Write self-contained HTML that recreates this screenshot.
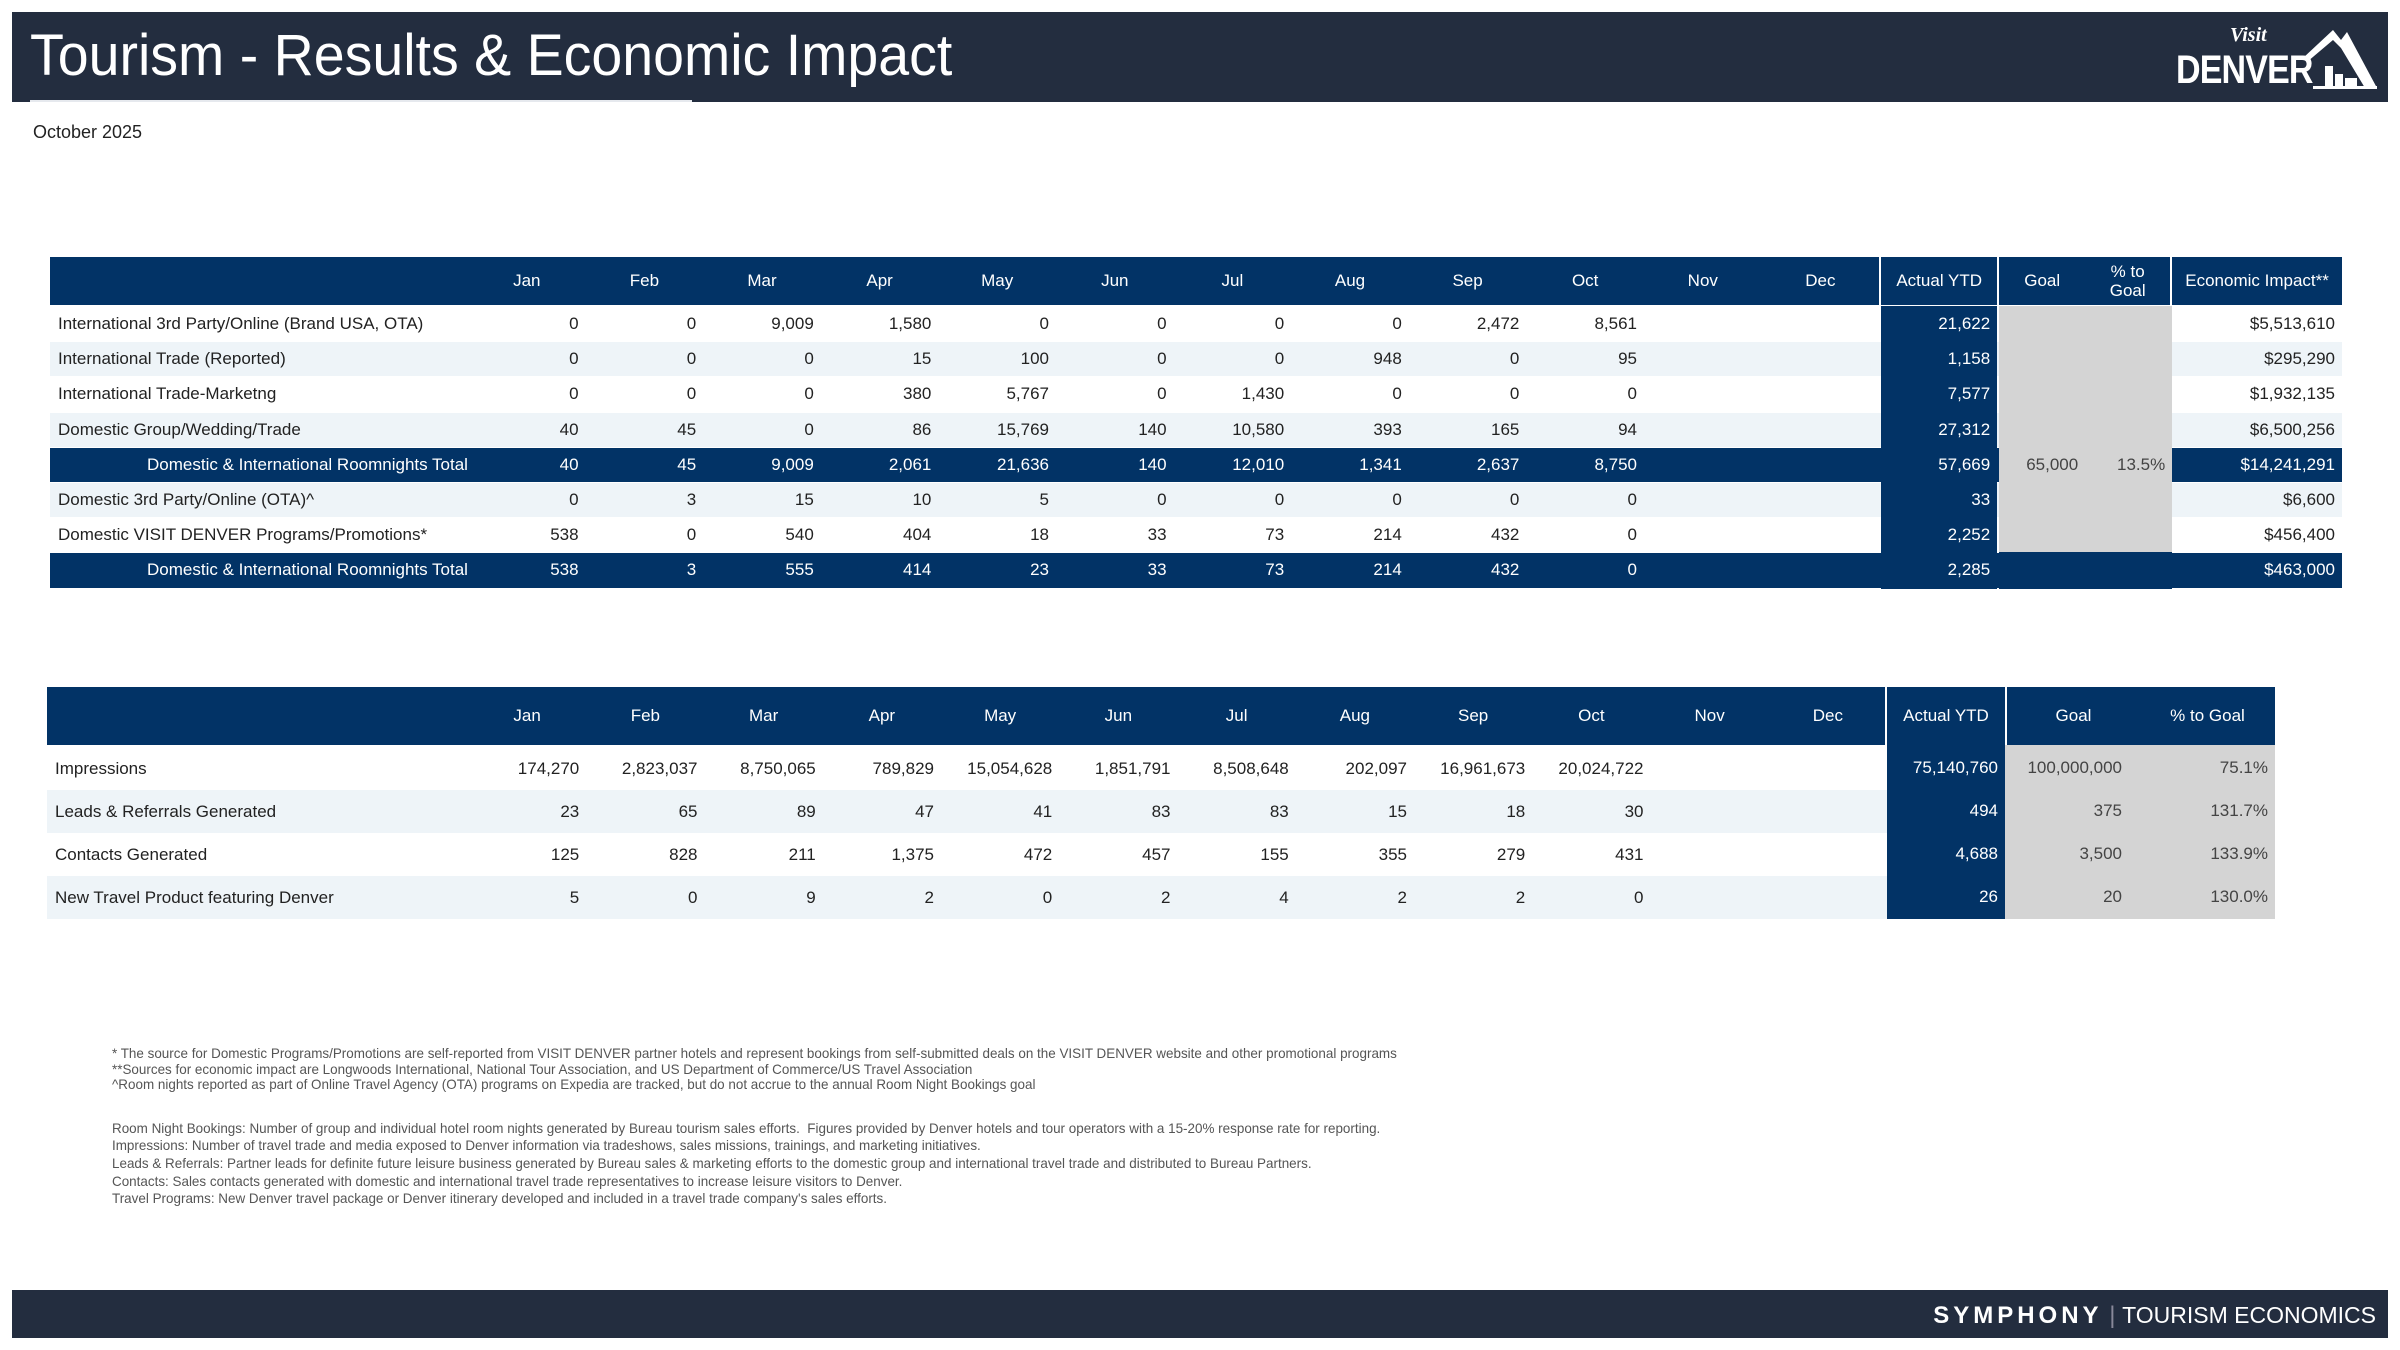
<!DOCTYPE html>
<html><head><meta charset="utf-8">
<style>
*{margin:0;padding:0;box-sizing:border-box}
body{width:2400px;height:1350px;background:#fff;position:relative;overflow:hidden;font-family:"Liberation Sans",sans-serif;color:#222}
.abs{position:absolute}
.cell{position:absolute;display:flex;align-items:center;font-size:17px;white-space:nowrap}
.r{justify-content:flex-end;padding-right:7px}
.c{justify-content:center}
.l{padding-left:8px}
.navy{background:#023366;color:#fff}
.fn{position:absolute;left:112px;font-size:14px;color:#555;white-space:nowrap;transform-origin:left center;transform:scaleX(0.96)}
</style></head><body>
<div class="abs" style="left:12px;top:12px;width:2376px;height:90px;background:#232d3f"></div>
<div class="abs" style="left:30px;top:22px;font-size:58px;color:#fff;white-space:nowrap;transform-origin:left top;transform:scaleX(0.957)">Tourism - Results &amp; Economic Impact</div>
<div class="abs" style="left:30px;top:100px;width:662px;height:2px;background:#e6e9ee"></div>
<div class="abs" style="left:2170px;top:22px;width:210px;height:72px">
  <div class="abs" style="left:60px;top:2px;font:italic bold 20px 'Liberation Serif',serif;color:#fff">Visit</div>
  <div class="abs" style="left:6px;top:26px;font:bold 40px 'Liberation Sans',sans-serif;color:#fff;letter-spacing:-1px;transform-origin:left top;transform:scaleX(0.85)">DENVER</div>
  <svg class="abs" style="left:125px;top:0" width="85" height="72"><path d="M8 36 L38 8 L46 18 L52 10 L82 66 L70 66 L46 26 L38 18 L12 40Z" fill="#fff"/><rect x="30" y="44" width="8" height="22" fill="#fff"/><rect x="40" y="52" width="8" height="14" fill="#fff"/><rect x="50" y="56" width="12" height="10" fill="#fff"/><rect x="18" y="64" width="64" height="3" fill="#fff"/></svg>
</div>
<div class="abs" style="left:33px;top:122px;font-size:18px;color:#222">October 2025</div>

<div id="t1"></div>
<div id="t2"></div>

<div class="fn" style="top:1045px">* The source for Domestic Programs/Promotions are self-reported from VISIT DENVER partner hotels and represent bookings from self-submitted deals on the VISIT DENVER website and other promotional programs</div>
<div class="fn" style="top:1061px">**Sources for economic impact are Longwoods International, National Tour Association, and US Department of Commerce/US Travel Association</div>
<div class="fn" style="top:1076px">^Room nights reported as part of Online Travel Agency (OTA) programs on Expedia are tracked, but do not accrue to the annual Room Night Bookings goal</div>
<div class="fn" style="top:1120px">Room Night Bookings: Number of group and individual hotel room nights generated by Bureau tourism sales efforts.&nbsp; Figures provided by Denver hotels and tour operators with a 15-20% response rate for reporting.</div>
<div class="fn" style="top:1137px">Impressions: Number of travel trade and media exposed to Denver information via tradeshows, sales missions, trainings, and marketing initiatives.</div>
<div class="fn" style="top:1155px">Leads &amp; Referrals: Partner leads for definite future leisure business generated by Bureau sales &amp; marketing efforts to the domestic group and international travel trade and distributed to Bureau Partners.</div>
<div class="fn" style="top:1173px">Contacts: Sales contacts generated with domestic and international travel trade representatives to increase leisure visitors to Denver.</div>
<div class="fn" style="top:1190px">Travel Programs: New Denver travel package or Denver itinerary developed and included in a travel trade company's sales efforts.</div>

<div class="abs" style="left:12px;top:1290px;width:2376px;height:48px;background:#232d3f"></div>
<div class="abs" style="right:24px;top:1302px;color:#fff;font-size:24px;white-space:nowrap"><b style="letter-spacing:4px">SYMPHONY</b> <span style="color:#889;">|</span> <span style="font-size:23px">TOURISM ECONOMICS</span></div>

<script>
const months=["Jan","Feb","Mar","Apr","May","Jun","Jul","Aug","Sep","Oct","Nov","Dec"];
const t1Labels=["International 3rd Party/Online (Brand USA, OTA)","International Trade (Reported)","International Trade-Marketng","Domestic Group/Wedding/Trade","Domestic & International Roomnights Total","Domestic 3rd Party/Online (OTA)^","Domestic VISIT DENVER Programs/Promotions*","Domestic & International Roomnights Total"];
const t1Values=[
[0,0,9009,1580,0,0,0,0,2472,8561],
[0,0,0,15,100,0,0,948,0,95],
[0,0,0,380,5767,0,1430,0,0,0],
[40,45,0,86,15769,140,10580,393,165,94],
[40,45,9009,2061,21636,140,12010,1341,2637,8750],
[0,3,15,10,5,0,0,0,0,0],
[538,0,540,404,18,33,73,214,432,0],
[538,3,555,414,23,33,73,214,432,0]];
const t1Ytd=[21622,1158,7577,27312,57669,33,2252,2285];
const t1Goal=[null,null,null,null,65000,null,null,null];
const t1Pct=[null,null,null,null,"13.5%",null,null,null];
const t1Impact=[5513610,295290,1932135,6500256,14241291,6600,456400,463000];
const t1Total=[false,false,false,false,true,false,false,true];

const t2Labels=["Impressions","Leads & Referrals Generated","Contacts Generated","New Travel Product featuring Denver"];
const t2Values=[
[174270,2823037,8750065,789829,15054628,1851791,8508648,202097,16961673,20024722],
[23,65,89,47,41,83,83,15,18,30],
[125,828,211,1375,472,457,155,355,279,431],
[5,0,9,2,0,2,4,2,2,0]];
const t2Ytd=[75140760,494,4688,26];
const t2Goal=[100000000,375,3500,20];
const t2Pct=["75.1%","131.7%","133.9%","130.0%"];

const fmt=v=>v.toLocaleString("en-US");
function cell(parent,x,y,w,h,text,cls,bg,color){
  const d=document.createElement("div");
  d.className="cell "+cls;
  d.style.left=x+"px";d.style.top=y+"px";d.style.width=w+"px";d.style.height=h+"px";
  if(bg)d.style.background=bg;
  if(color)d.style.color=color;
  d.textContent=text;
  parent.appendChild(d);
  return d;
}
const NAVY="#023366",STRIPE="#eef4f8",GRAY="#d4d4d4";

// Table 1
(function(){
  const p=document.getElementById("t1");
  const L=50,labW=418,mW=117.6,top=257,hH=48,rH=35.2;
  const mx=i=>L+labW+i*mW;
  const ytdX=mx(12)+2,ytdW=116,gX=ytdX+118,gW=86,pX=gX+86,pW=85,eX=pX+87,eW=2342-(pX+87);
  let h=cell(p,L,top,2342-L,hH,"","",NAVY);
  
  
  months.forEach((m,i)=>{const c=cell(p,mx(i),top,mW,hH,m,"c",null,"#fff");
    
    });
  [[ytdX,ytdW,"Actual YTD"],[gX,gW,"Goal"],[eX,eW,"Economic Impact**"]].forEach(a=>{const c=cell(p,a[0],top,a[1],hH,a[2],"c",null,"#fff");
    
    });
  const pc=cell(p,pX,top,pW,hH,"% to\nGoal","c",null,"#fff");pc.style.whiteSpace="pre";pc.style.textAlign="center";pc.style.lineHeight="19px";
  
  
  [ytdX-2,gX-2,eX-2].forEach(x=>{const s=cell(p,x,top,2,hH+rH*8+4,"","", "#fff");
    
    });
  t1Labels.forEach((lab,r)=>{
    const y=top+hH+2+r*rH;
    const tot=t1Total[r];
    const bg=tot?NAVY:(r%2===1||r===5?STRIPE:"#fff");
    const col=tot?"#fff":"#222";
    const row=cell(p,L,y,2342-L,rH-1,"","",bg);
    
    
    const lc=cell(p,L,y,labW,rH-1,lab,"l",null,col);
    if(tot)lc.style.paddingLeft="97px";
    
    
    t1Values[r].forEach((v,i)=>{const c=cell(p,mx(i),y,mW,rH-1,fmt(v),"r",null,col);
      
      });
    const yc=cell(p,ytdX,y-1,ytdW,rH+1,fmt(t1Ytd[r]),"r",NAVY,"#fff");
    
    
    const gbg=(r===7)?NAVY:GRAY;
    const gc=cell(p,gX,y-1,gW,rH+1,t1Goal[r]==null?"":fmt(t1Goal[r]),"r",gbg,"#444");
    
    
    const pcc=cell(p,pX,y-1,pW+2,rH+1,t1Pct[r]||"","r",gbg,"#444");
    
    
    const ec=cell(p,eX,y,eW,rH-1,"$"+fmt(t1Impact[r]),"r",null,col);
    
    
  });
})();

// Table 2
(function(){
  const p=document.getElementById("t2");
  const L=47,labW=421,mW=118.25,top=687,hH=58,rH=43;
  const mx=i=>L+labW+i*mW;
  const ytdX=mx(12),ytdW=118,gX=ytdX+120,gW=133,pX=gX+133,pW=2275-(gX+133);
  const h=cell(p,L,top,2275-L,hH,"","",NAVY);
  
  
  months.forEach((m,i)=>{const c=cell(p,mx(i),top,mW,hH,m,"c",null,"#fff");
    
    });
  [[ytdX,ytdW,"Actual YTD"],[gX,gW,"Goal"],[pX,pW,"% to Goal"]].forEach(a=>{const c=cell(p,a[0],top,a[1],hH,a[2],"c",null,"#fff");
    
    });
  [ytdX-2,gX-2].forEach(x=>{const s=cell(p,x,top,2,hH,"","","#fff");
    
    });
  t2Labels.forEach((lab,r)=>{
    const y=top+hH+2+r*rH;
    const row=cell(p,L,y,ytdX-L,rH,"","",r%2?STRIPE:"#fff");
    
    
    const lc=cell(p,L,y,labW,rH,lab,"l",null,"#222");
    
    
    t2Values[r].forEach((v,i)=>{const c=cell(p,mx(i),y,mW,rH,fmt(v),"r",null,"#222");
      
      });
    const yc=cell(p,ytdX,y-2,ytdW,rH+2,fmt(t2Ytd[r]),"r",NAVY,"#fff");
    
    
    const gc=cell(p,gX-2,y-2,gW+2,rH+2,fmt(t2Goal[r]),"r",GRAY,"#444");
    gc.style.paddingRight="18px";
    
    
    const pcc=cell(p,pX,y-2,pW,rH+2,t2Pct[r],"r",GRAY,"#444");
    
    
  });
})();
</script>
</body></html>
